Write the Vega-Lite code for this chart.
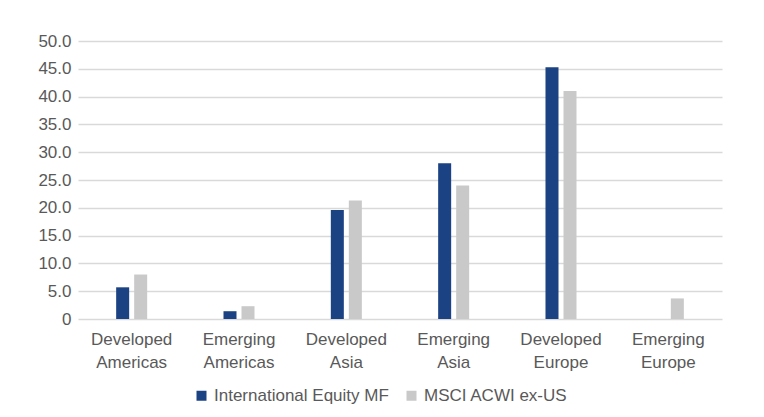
{
  "$schema": "https://vega.github.io/schema/vega-lite/v6.json",
  "width": 644,
  "height": 278,
  "autosize": {"type": "none"},
  "padding": {"left": 78, "top": 41, "right": 42, "bottom": 98},
  "background": "white",
  "config": {
    "font": "Liberation Sans",
    "view": {"stroke": null}
  },
  "data": {
    "values": [
      {"region": "Developed Americas", "series": "International Equity MF", "value": 5.7},
      {"region": "Developed Americas", "series": "MSCI ACWI ex-US", "value": 8.0},
      {"region": "Emerging Americas", "series": "International Equity MF", "value": 1.4},
      {"region": "Emerging Americas", "series": "MSCI ACWI ex-US", "value": 2.3},
      {"region": "Developed Asia", "series": "International Equity MF", "value": 19.6},
      {"region": "Developed Asia", "series": "MSCI ACWI ex-US", "value": 21.3},
      {"region": "Emerging Asia", "series": "International Equity MF", "value": 28.0},
      {"region": "Emerging Asia", "series": "MSCI ACWI ex-US", "value": 24.0},
      {"region": "Developed Europe", "series": "International Equity MF", "value": 45.3},
      {"region": "Developed Europe", "series": "MSCI ACWI ex-US", "value": 41.0},
      {"region": "Emerging Europe", "series": "International Equity MF", "value": 0},
      {"region": "Emerging Europe", "series": "MSCI ACWI ex-US", "value": 3.7}
    ]
  },
  "mark": {"type": "bar"},
  "encoding": {
    "x": {
      "field": "region",
      "type": "nominal",
      "sort": ["Developed Americas", "Emerging Americas", "Developed Asia", "Emerging Asia", "Developed Europe", "Emerging Europe"],
      "scale": {"paddingInner": 0.711, "paddingOuter": 0.3555},
      "axis": {
        "title": null,
        "domain": false,
        "ticks": false,
        "grid": false,
        "labelAngle": 0,
        "labelExpr": "split(datum.label, ' ')",
        "labelFontSize": 17,
        "labelColor": "#595959",
        "labelLineHeight": 23,
        "labelPadding": 12
      }
    },
    "xOffset": {
      "field": "series",
      "sort": ["International Equity MF", "MSCI ACWI ex-US"],
      "scale": {"paddingInner": 0.278, "paddingOuter": 0}
    },
    "y": {
      "field": "value",
      "type": "quantitative",
      "scale": {"domain": [0, 50], "nice": false},
      "axis": {
        "title": null,
        "domain": false,
        "ticks": false,
        "values": [0, 5, 10, 15, 20, 25, 30, 35, 40, 45, 50],
        "labelExpr": "datum.value == 0 ? '0' : format(datum.value, '.1f')",
        "labelFontSize": 17,
        "labelColor": "#595959",
        "labelPadding": 7,
        "gridColor": "#d9d9d9",
        "gridWidth": 1.4
      }
    },
    "color": {
      "field": "series",
      "type": "nominal",
      "scale": {"domain": ["International Equity MF", "MSCI ACWI ex-US"], "range": ["#1b4282", "#c9c9c9"]},
      "legend": {
        "title": null,
        "orient": "none",
        "direction": "horizontal",
        "legendX": 115,
        "legendY": 346,
        "symbolType": "square",
        "symbolSize": 100,
        "symbolStrokeWidth": 0,
        "labelFontSize": 17,
        "labelColor": "#595959",
        "labelLimit": 400,
        "labelOffset": 4,
        "columnPadding": 14
      }
    }
  }
}
